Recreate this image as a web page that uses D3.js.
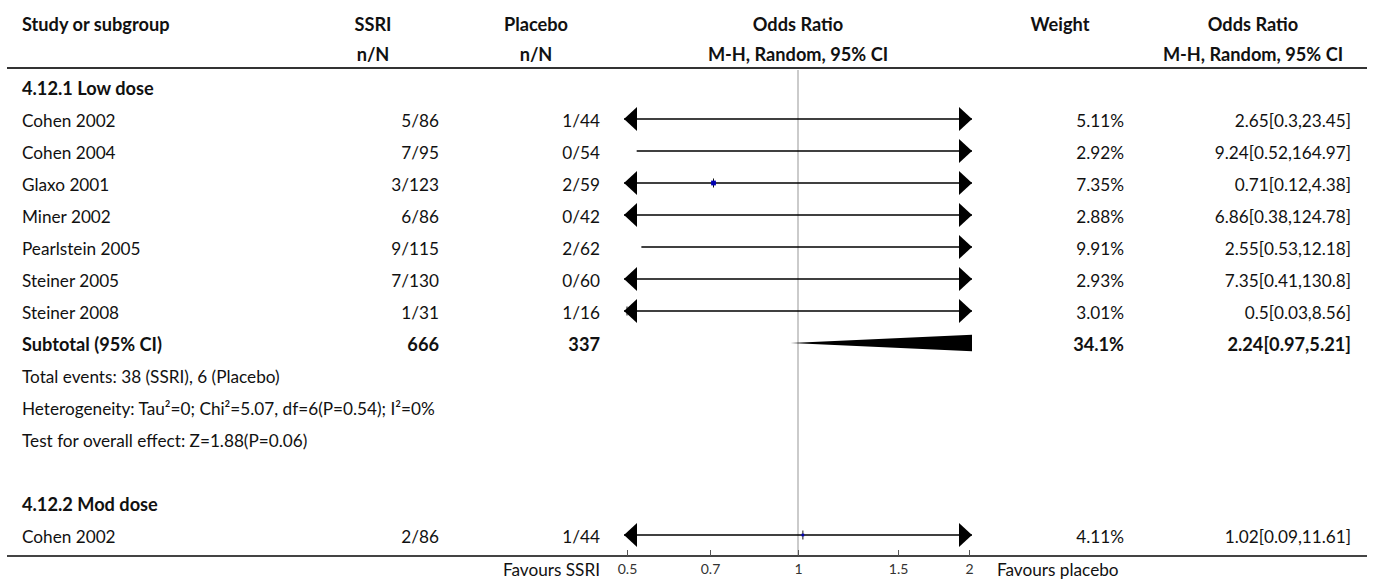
<!DOCTYPE html>
<html>
<head>
<meta charset="utf-8">
<script src="https://cdn.jsdelivr.net/npm/d3@7"></script>
<style>
  html, body { margin: 0; padding: 0; background: #fff; }
  svg { display: block; font-family: Lato, "Noto Sans", sans-serif; }
</style>
</head>
<body>
<svg id="chart" width="1375" height="583"></svg>
<script>
// Study-level data, subgroup 4.12.1 (low dose)
const lowStudies = ["Cohen 2002", "Cohen 2004", "Glaxo 2001", "Miner 2002", "Pearlstein 2005", "Steiner 2005", "Steiner 2008"];
const lowSsriEvents = [5, 7, 3, 6, 9, 7, 1];
const lowSsriTotal = [86, 95, 123, 86, 115, 130, 31];
const lowPlaceboEvents = [1, 0, 2, 0, 2, 0, 1];
const lowPlaceboTotal = [44, 54, 59, 42, 62, 60, 16];
const lowWeight = [5.11, 2.92, 7.35, 2.88, 9.91, 2.93, 3.01];
const lowOR = [2.65, 9.24, 0.71, 6.86, 2.55, 7.35, 0.5];
const lowLo = [0.3, 0.52, 0.12, 0.38, 0.53, 0.41, 0.03];
const lowHi = [23.45, 164.97, 4.38, 124.78, 12.18, 130.8, 8.56];

// Subtotal for the low-dose subgroup
const subtotalSsri = 666;
const subtotalPlacebo = 337;
const subtotalWeight = 34.1;
const subtotalOR = [2.24, 0.97, 5.21];
const subtotalNotes = [
  "Total events: 38 (SSRI), 6 (Placebo)",
  "Heterogeneity: Tau\u00B2=0; Chi\u00B2=5.07, df=6(P=0.54); I\u00B2=0%",
  "Test for overall effect: Z=1.88(P=0.06)"
];

// Subgroup 4.12.2 (moderate dose)
const modStudies = ["Cohen 2002"];
const modSsriEvents = [2];
const modSsriTotal = [86];
const modPlaceboEvents = [1];
const modPlaceboTotal = [44];
const modWeight = [4.11];
const modOR = [1.02];
const modLo = [0.09];
const modHi = [11.61];

// Axis
const axisTicks = [0.5, 0.7, 1, 1.5, 2];
const axisDomain = [0.5, 2];
const favoursLeft = "Favours SSRI";
const favoursRight = "Favours placebo";

// ---- layout ----
const W = 1375, H = 583;
const colLabelX = 22;
const colSsriRight = 439, colSsriHead = 373;
const colPlaRight = 600, colPlaHead = 536;
const colWtRight = 1124, colWtHead = 1060;
const colOrRight = 1351, colOrHead = 1253;
const fontSize = 17.2, boldSize = 18.2;
const textColor = "#111";

const x = d3.scaleLog().domain(axisDomain).range([627, 969]);
const clipL = x.range()[0] - 3, clipR = x.range()[1] + 3;
const arrowW = 13, arrowH = 12;

const rowY0 = 87, rowStep = 32;
const rowY = i => rowY0 + rowStep * i;

// Build the row list
const rows = [];
rows.push({ type: "group", label: "4.12.1 Low dose" });
lowStudies.forEach((s, i) => rows.push({
  type: "study", label: s,
  ssri: `${lowSsriEvents[i]}/${lowSsriTotal[i]}`,
  pla: `${lowPlaceboEvents[i]}/${lowPlaceboTotal[i]}`,
  w: lowWeight[i], or: lowOR[i], lo: lowLo[i], hi: lowHi[i]
}));
rows.push({ type: "subtotal", label: "Subtotal (95% CI)", ssri: String(subtotalSsri), pla: String(subtotalPlacebo),
  w: subtotalWeight, or: subtotalOR[0], lo: subtotalOR[1], hi: subtotalOR[2] });
subtotalNotes.forEach(n => rows.push({ type: "note", label: n }));
rows.push({ type: "blank" });
rows.push({ type: "group", label: "4.12.2 Mod dose" });
modStudies.forEach((s, i) => rows.push({
  type: "study", label: s,
  ssri: `${modSsriEvents[i]}/${modSsriTotal[i]}`,
  pla: `${modPlaceboEvents[i]}/${modPlaceboTotal[i]}`,
  w: modWeight[i], or: modOR[i], lo: modLo[i], hi: modHi[i]
}));
rows.forEach((r, i) => r.y = rowY(i));

const svg = d3.select("#chart");
svg.append("rect").attr("width", W).attr("height", H).attr("fill", "#fff");

const defs = svg.append("defs");
defs.append("clipPath").attr("id", "plotClip")
  .append("rect").attr("x", clipL).attr("y", 0).attr("width", clipR - clipL).attr("height", H);

// ---- header ----
const head = svg.append("g").attr("font-weight", 700).attr("font-size", boldSize).attr("fill", textColor);
const hy1 = 25, hy2 = 55;
head.append("text").attr("x", colLabelX).attr("y", hy1).attr("dy", "0.35em").text("Study or subgroup");
[[colSsriHead, "SSRI", "n/N"], [colPlaHead, "Placebo", "n/N"], [x(1), "Odds Ratio", "M-H, Random, 95% CI"],
 [colWtHead, "Weight", ""], [colOrHead, "Odds Ratio", "M-H, Random, 95% CI"]].forEach(([cx, a, b]) => {
  head.append("text").attr("x", cx).attr("y", hy1).attr("dy", "0.35em").attr("text-anchor", "middle").text(a);
  if (b) head.append("text").attr("x", cx).attr("y", hy2).attr("dy", "0.35em").attr("text-anchor", "middle").text(b);
});

svg.append("line").attr("x1", 7).attr("x2", 1367).attr("y1", 68).attr("y2", 68)
  .attr("stroke", "#333").attr("stroke-width", 2);

// ---- line of no effect ----
svg.append("line").attr("x1", x(1)).attr("x2", x(1)).attr("y1", 70).attr("y2", 556)
  .attr("stroke", "#a8a8a8").attr("stroke-width", 1.2);

// ---- text columns ----
const body = svg.append("g").attr("fill", textColor);
rows.forEach(r => {
  if (r.type === "blank") return;
  const bold = r.type === "group" || r.type === "subtotal";
  const g = body.append("g").attr("font-weight", bold ? 700 : 400).attr("font-size", bold ? boldSize : fontSize);
  const ty = r.y + 2;
  g.append("text").attr("x", colLabelX).attr("y", ty).attr("dy", "0.35em").text(r.label);
  if (r.type === "study" || r.type === "subtotal") {
    g.append("text").attr("x", colSsriRight).attr("y", ty).attr("dy", "0.35em").attr("text-anchor", "end").text(r.ssri);
    g.append("text").attr("x", colPlaRight).attr("y", ty).attr("dy", "0.35em").attr("text-anchor", "end").text(r.pla);
    g.append("text").attr("x", colWtRight).attr("y", ty).attr("dy", "0.35em").attr("text-anchor", "end").text(`${r.w}%`);
    g.append("text").attr("x", colOrRight).attr("y", ty).attr("dy", "0.35em").attr("text-anchor", "end")
      .text(`${r.or}[${r.lo},${r.hi}]`);
  }
});

// ---- forest marks ----
const plot = svg.append("g");
rows.filter(r => r.type === "study").forEach(r => {
  const y = r.y;
  const x1 = Math.max(x(r.lo), clipL), x2 = Math.min(x(r.hi), clipR);
  plot.append("line").attr("x1", x1).attr("x2", x2).attr("y1", y).attr("y2", y)
    .attr("stroke", "#000").attr("stroke-width", 1.4);
  // point estimate
  if (r.or >= axisDomain[0] && r.or <= axisDomain[1]) {
    const s = Math.max(2, r.w * 0.65);
    const px = x(r.or);
    plot.append("line").attr("x1", px).attr("x2", px).attr("y1", y - 4.5).attr("y2", y + 4.5)
      .attr("stroke", "#111").attr("stroke-width", 1);
    plot.append("rect").attr("x", px - s / 2).attr("y", y - s / 2).attr("width", s).attr("height", s)
      .attr("fill", "#0000b4");
  }
  if (r.lo < axisDomain[0]) {
    plot.append("path").attr("d", `M${clipL},${y}L${clipL + arrowW},${y - arrowH}L${clipL + arrowW},${y + arrowH}Z`)
      .attr("fill", "#000");
  }
  if (r.hi > axisDomain[1]) {
    plot.append("path").attr("d", `M${clipR},${y}L${clipR - arrowW},${y - arrowH}L${clipR - arrowW},${y + arrowH}Z`)
      .attr("fill", "#000");
  }
});

// subtotal diamond
rows.filter(r => r.type === "subtotal").forEach(r => {
  const y = r.y, h = 9.3;
  plot.append("path").attr("clip-path", "url(#plotClip)")
    .attr("d", `M${x(r.lo)},${y}L${x(r.or)},${y - h}L${x(r.hi)},${y}L${x(r.or)},${y + h}Z`)
    .attr("fill", "#000");
});

// ---- axis ----
const axisY = 556;
svg.append("line").attr("x1", 7).attr("x2", 1367).attr("y1", axisY).attr("y2", axisY)
  .attr("stroke", "#444").attr("stroke-width", 2);
const axisG = svg.append("g").attr("transform", `translate(0,${axisY})`)
  .call(d3.axisBottom(x).tickValues(axisTicks).tickFormat(d => String(d)).tickSize(-6).tickPadding(8));
axisG.select(".domain").remove();
axisG.selectAll(".tick line").attr("stroke", "#555");
axisG.selectAll(".tick text").attr("font-family", "Lato, sans-serif").attr("font-size", 14).attr("fill", "#333");

svg.append("text").attr("x", colPlaRight).attr("y", 570).attr("dy", "0.35em").attr("text-anchor", "end")
  .attr("font-size", fontSize).attr("fill", textColor).text(favoursLeft);
svg.append("text").attr("x", 997).attr("y", 570).attr("dy", "0.35em")
  .attr("font-size", fontSize).attr("fill", textColor).text(favoursRight);
</script>
</body>
</html>
